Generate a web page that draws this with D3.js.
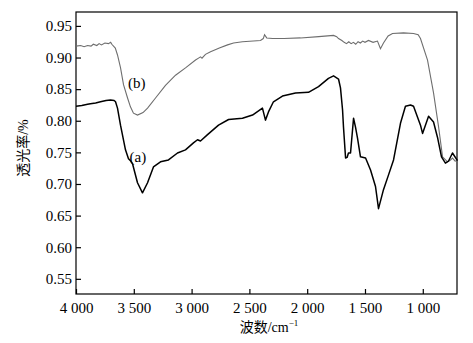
<!DOCTYPE html>
<html><head><meta charset="utf-8">
<script src="https://cdn.jsdelivr.net/npm/d3@7"></script>
<style>body{margin:0;background:#fff;}svg{display:block;}</style>
</head><body>
<svg id="c" width="473" height="343"></svg>
<script>
// wavenumber (cm^-1) and transmittance for curve (a)
const waveA = [4000,3950,3900,3875,3830,3788,3740,3702,3670,3658,3641,3615,3572,3546,3529,3511,3468,3425,3381,3330,3269,3200,3122,3053,2984,2949,2923,2862,2767,2680,2560,2473,2387,2361,2335,2292,2214,2101,1989,1902,1816,1772,1729,1712,1694,1686,1668,1655,1643,1625,1599,1582,1565,1539,1495,1452,1409,1383,1340,1297,1253,1193,1150,1106,1080,1020,1002,950,907,873,838,804,778,743,700];
const transA = [0.823,0.824,0.826,0.827,0.828,0.830,0.832,0.833,0.832,0.830,0.820,0.793,0.754,0.740,0.737,0.732,0.702,0.686,0.702,0.727,0.735,0.738,0.749,0.754,0.765,0.770,0.768,0.778,0.793,0.802,0.804,0.809,0.820,0.801,0.814,0.830,0.839,0.844,0.845,0.854,0.867,0.871,0.866,0.852,0.817,0.790,0.741,0.742,0.749,0.749,0.804,0.790,0.773,0.743,0.741,0.722,0.696,0.661,0.691,0.714,0.738,0.796,0.823,0.825,0.823,0.793,0.780,0.807,0.798,0.774,0.743,0.733,0.736,0.749,0.737];
// curve (b)
const waveB = [4000,3960,3930,3900,3870,3850,3820,3800,3780,3750,3719,3700,3690,3660,3641,3615,3589,3554,3529,3503,3468,3420,3381,3312,3226,3139,3050,2966,2940,2923,2910,2880,2836,2760,2689,2637,2560,2404,2380,2369,2350,2300,2200,2058,1900,1772,1745,1729,1700,1680,1660,1640,1620,1600,1580,1560,1540,1520,1500,1470,1430,1392,1366,1340,1300,1262,1167,1080,1040,1020,959,907,864,829,786,760,743,720,700];
const transB = [0.918,0.919,0.917,0.919,0.918,0.921,0.919,0.922,0.920,0.923,0.922,0.924,0.921,0.915,0.904,0.884,0.857,0.836,0.822,0.812,0.809,0.813,0.820,0.836,0.856,0.872,0.884,0.896,0.899,0.901,0.899,0.905,0.909,0.915,0.920,0.923,0.925,0.927,0.930,0.936,0.931,0.930,0.930,0.931,0.933,0.935,0.933,0.930,0.927,0.924,0.922,0.925,0.922,0.924,0.921,0.925,0.923,0.926,0.924,0.927,0.924,0.926,0.914,0.923,0.934,0.938,0.939,0.938,0.936,0.930,0.896,0.844,0.791,0.743,0.735,0.738,0.741,0.736,0.737];
const xTicks = [4000,3500,3000,2500,2000,1500,1000];
const xTickLabels = ["4 000","3 500","3 000","2 500","2 000","1 500","1 000"];
const yTicks = [0.55,0.60,0.65,0.70,0.75,0.80,0.85,0.90,0.95];
const curveLabels = [{t:"(a)", w:3465, v:0.735},{t:"(b)", w:3475, v:0.852}];

const svg = d3.select("#c");
const m = {l:76, r:457, t:12, b:294};
const x = d3.scaleLinear().domain([4000,704]).range([m.l, m.r]);
const y = d3.scaleLinear().domain([0.526,0.972]).range([m.b, m.t]);
const serif = "'Liberation Serif','Times New Roman',serif";

// frame
svg.append("rect").attr("x",m.l).attr("y",m.t).attr("width",m.r-m.l).attr("height",m.b-m.t)
  .attr("fill","none").attr("stroke","#000").attr("stroke-width",1.2);

const gx = svg.append("g").attr("transform",`translate(0,${m.b})`)
  .call(d3.axisBottom(x).tickValues(xTicks).tickSize(-5).tickPadding(8)
    .tickFormat((d,i)=>xTickLabels[i]));
const gy = svg.append("g").attr("transform",`translate(${m.l},0)`)
  .call(d3.axisLeft(y).tickValues(yTicks).tickSize(-5).tickPadding(4).tickFormat(d3.format(".2f")));
[gx,gy].forEach(g=>{
  g.select(".domain").remove();
  g.selectAll("line").attr("stroke","#000").attr("stroke-width",1.2);
  g.selectAll("text").attr("font-family",serif).attr("font-size",15).attr("fill","#000");
});

const line = d3.line().x(d=>x(d[0])).y(d=>y(d[1]));
svg.append("path").datum(d3.zip(waveB,transB)).attr("d",line)
  .attr("fill","none").attr("stroke","#6e6e6e").attr("stroke-width",1.1);
svg.append("path").datum(d3.zip(waveA,transA)).attr("d",line)
  .attr("fill","none").attr("stroke","#000").attr("stroke-width",1.5).attr("stroke-linejoin","round");

svg.selectAll(".cl").data(curveLabels).enter().append("text")
  .attr("x",d=>x(d.w)).attr("y",d=>y(d.v)).attr("text-anchor","middle")
  .attr("font-family",serif).attr("font-size",15).text(d=>d.t);

// axis titles
const xt = svg.append("text").attr("x",269).attr("y",332).attr("text-anchor","middle")
  .attr("font-size",14).attr("font-family",serif);
xt.append("tspan").attr("font-family","'Noto Sans CJK SC',sans-serif").text("波数");
xt.append("tspan").text("/cm");
xt.append("tspan").attr("dy",-6).attr("font-size",9).text("−1");

const yt = svg.append("text").attr("transform","translate(28,148) rotate(-90)").attr("text-anchor","middle")
  .attr("font-size",14).attr("font-family",serif);
yt.append("tspan").attr("font-family","'Noto Sans CJK SC',sans-serif").text("透光率");
yt.append("tspan").text("/%");
</script>
</body></html>
